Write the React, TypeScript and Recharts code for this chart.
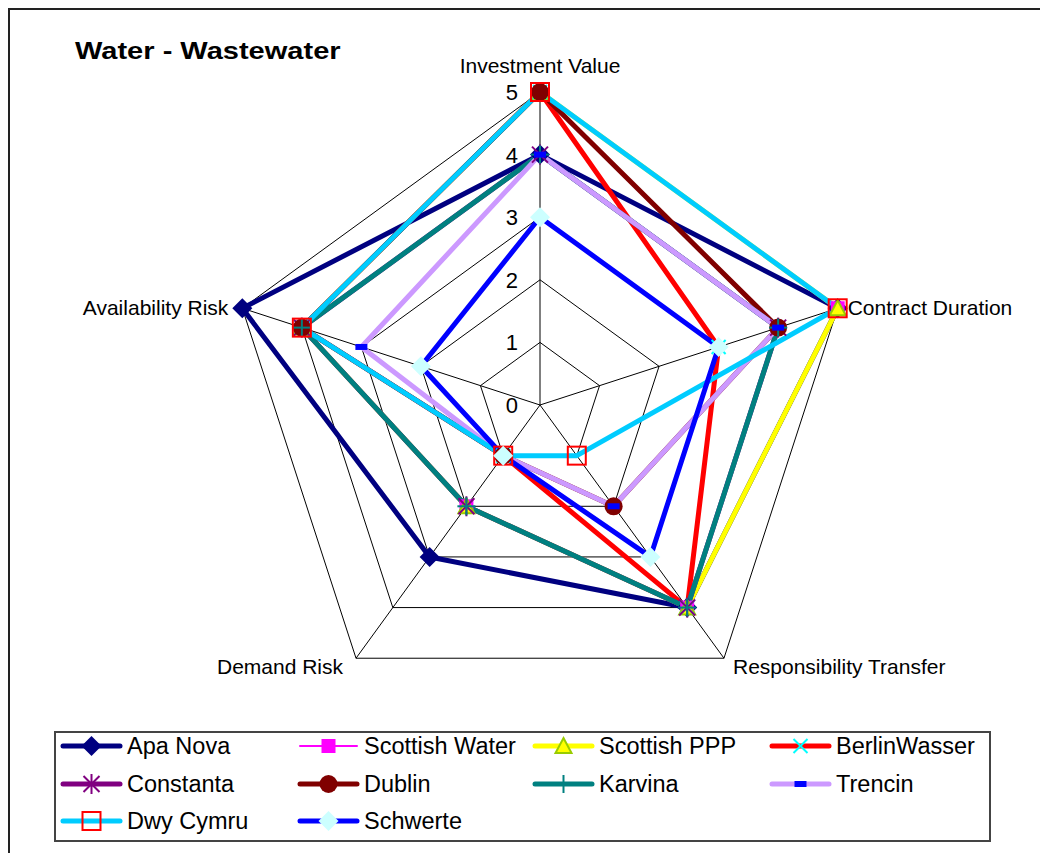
import React from 'react';
import { RadarChart, Radar, PolarGrid, PolarAngleAxis, PolarRadiusAxis } from 'recharts';

// ---- data ----
const categories = ['Investment Value', 'Contract Duration', 'Responsibility Transfer', 'Demand Risk', 'Availability Risk'];
const radiusTicks = [0, 1, 2, 3, 4, 5];
const title = 'Water - Wastewater';

const apaNova = [4, 5, 4, 3, 5];
const scottishWater = [5, 5, 4, 2, 4];
const scottishPPP = [5, 5, 4, 2, 4];
const berlinWasser = [5, 3, 4, 1, 4];
const constanta = [4, 4, 4, 2, 4];
const dublin = [5, 4, 2, 1, 4];
const karvina = [4, 4, 4, 2, 4];
const trencin = [4, 4, 2, 1, 3];
const dwyCymru = [5, 5, 1, 1, 4];
const schwerte = [3, 3, 3, 1, 2];

const seriesNames = ['Apa Nova', 'Scottish Water', 'Scottish PPP', 'BerlinWasser', 'Constanta', 'Dublin', 'Karvina', 'Trencin', 'Dwy Cymru', 'Schwerte'];
const seriesValues = [apaNova, scottishWater, scottishPPP, berlinWasser, constanta, dublin, karvina, trencin, dwyCymru, schwerte];

// ---- styles ----
const seriesStyles = [
  { color: '#000080', width: 5, marker: 'diamond', mFill: '#000080', mStroke: 'none' },
  { color: '#FF00FF', width: 2, marker: 'square', mFill: '#FF00FF', mStroke: 'none' },
  { color: '#FFFF00', width: 5, marker: 'triangle', mFill: '#FFFF00', mStroke: '#99CC00' },
  { color: '#FF0000', width: 5, marker: 'x', mFill: 'none', mStroke: '#00FFFF' },
  { color: '#800080', width: 5, marker: 'asterisk', mFill: 'none', mStroke: '#800080' },
  { color: '#800000', width: 5, marker: 'circle', mFill: '#800000', mStroke: 'none' },
  { color: '#008080', width: 5, marker: 'plus', mFill: 'none', mStroke: '#008080' },
  { color: '#CC99FF', width: 5, marker: 'bar', mFill: '#0000FF', mStroke: 'none' },
  { color: '#00CCFF', width: 5, marker: 'openSquare', mFill: 'none', mStroke: '#FF0000' },
  { color: '#0000FF', width: 5, marker: 'diamond', mFill: '#CCFFFF', mStroke: 'none' },
];

const data = categories.map((c, i) => {
  const row: any = { category: c };
  seriesNames.forEach((n, s) => { row[n] = seriesValues[s][i]; });
  return row;
});

const FONT = '"Liberation Sans", Arial, Helvetica, sans-serif';
const W = 1040;
const H = 845;
const CX = 532;
const CY = 397;
const R = 313;

function Marker({ type, x, y, fill, stroke }: any) {
  switch (type) {
    case 'diamond':
      return <polygon points={`${x},${y - 10} ${x + 10},${y} ${x},${y + 10} ${x - 10},${y}`} fill={fill} />;
    case 'square':
      return <rect x={x - 7} y={y - 7} width={14} height={14} fill={fill} />;
    case 'triangle':
      return <polygon points={`${x},${y - 8} ${x + 8},${y + 7} ${x - 8},${y + 7}`} fill={fill} stroke={stroke} strokeWidth={2} />;
    case 'x':
      return (
        <g stroke={stroke} strokeWidth={2}>
          <line x1={x - 7} y1={y - 7} x2={x + 7} y2={y + 7} />
          <line x1={x - 7} y1={y + 7} x2={x + 7} y2={y - 7} />
        </g>
      );
    case 'asterisk':
      return (
        <g stroke={stroke} strokeWidth={2}>
          <line x1={x - 8} y1={y - 8} x2={x + 8} y2={y + 8} />
          <line x1={x - 8} y1={y + 8} x2={x + 8} y2={y - 8} />
          <line x1={x} y1={y - 10} x2={x} y2={y + 10} />
        </g>
      );
    case 'circle':
      return <circle cx={x} cy={y} r={9} fill={fill} />;
    case 'plus':
      return (
        <g stroke={stroke} strokeWidth={2}>
          <line x1={x - 9} y1={y} x2={x + 9} y2={y} />
          <line x1={x} y1={y - 9} x2={x} y2={y + 9} />
        </g>
      );
    case 'bar':
      return <rect x={x - 6} y={y - 3} width={12} height={6} fill={fill} />;
    case 'openSquare':
      return <rect x={x - 9} y={y - 9} width={18} height={18} fill="none" stroke={stroke} strokeWidth={2} />;
    default:
      return null;
  }
}

const labelPlacement: any[] = [
  { dx: 0, dy: -19, anchor: 'middle' },
  { dx: 10, dy: 7, anchor: 'start' },
  { dx: 9, dy: 16, anchor: 'start' },
  { dx: -13, dy: 16, anchor: 'end' },
  { dx: -14, dy: 7, anchor: 'end' },
];

const AngleTick = (props: any) => {
  const { x, y, payload } = props;
  const idx = categories.indexOf(payload.value);
  const vx = x - CX;
  const vy = y - CY;
  const len = Math.sqrt(vx * vx + vy * vy) || 1;
  const px = CX + (vx / len) * R;
  const py = CY + (vy / len) * R;
  const p = labelPlacement[idx] || labelPlacement[0];
  return (
    <text x={px + p.dx} y={py + p.dy} textAnchor={p.anchor} fontFamily={FONT} fontSize={21} fill="#000">
      {payload.value}
    </text>
  );
};

const RadiusTick = (props: any) => {
  const { y, payload } = props;
  return (
    <text x={CX - 22} y={y + 8} textAnchor="end" fontFamily={FONT} fontSize={22} fill="#000">
      {payload.value}
    </text>
  );
};

const legendCols = [55, 292, 527, 764];
const legendRows = [738, 776, 813];

export default function App() {
  return (
    <div style={{ position: 'relative', width: W, height: H, overflow: 'hidden', background: '#fff' }}>
      <div style={{ position: 'absolute', left: 0, top: 0 }}>
        <RadarChart width={W} height={H} data={data} cx={CX} cy={CY} outerRadius={R} margin={{ top: 0, right: 0, bottom: 0, left: 0 }}>
          <PolarGrid gridType="polygon" stroke="#000" strokeOpacity={1} strokeWidth={1} />
          <PolarAngleAxis dataKey="category" tick={AngleTick} tickLine={false} axisLine={false} />
          <PolarRadiusAxis angle={90} domain={[0, 5]} ticks={radiusTicks as any} tickCount={6} axisLine={false} tick={RadiusTick} tickLine={false} />
          {seriesNames.map((n, s) => (
            <Radar
              key={'line-' + n}
              name={n}
              dataKey={n}
              stroke={seriesStyles[s].color}
              strokeWidth={seriesStyles[s].width}
              strokeLinejoin="round"
              fill="none"
              fillOpacity={0}
              dot={false}
              activeDot={false}
              legendType="none"
              isAnimationActive={false}
            />
          ))}
          {seriesNames.map((n, s) => (
            <Radar
              key={'dot-' + n}
              name={n + ' markers'}
              dataKey={n}
              stroke="none"
              fill="none"
              fillOpacity={0}
              activeDot={false}
              legendType="none"
              isAnimationActive={false}
              dot={(p: any) => (
                <Marker
                  key={'m-' + n + '-' + (p.index ?? p.key)}
                  type={seriesStyles[s].marker}
                  x={p.cx}
                  y={p.cy}
                  fill={seriesStyles[s].mFill}
                  stroke={seriesStyles[s].mStroke}
                />
              )}
            />
          ))}
        </RadarChart>
      </div>
      <svg width={W} height={H} style={{ position: 'absolute', left: 0, top: 0, pointerEvents: 'none' }}>
        <line x1={0} y1={1} x2={W} y2={1} stroke="#222" strokeWidth={2} />
        <line x1={1} y1={0} x2={1} y2={H} stroke="#222" strokeWidth={2} />
        <text transform="translate(67,51) scale(1.21,1)" fontFamily={FONT} fontWeight="bold" fontSize={24} fill="#000">
          {title}
        </text>
        <rect x={47} y={724} width={935} height={109} fill="#fff" stroke="#444" strokeWidth={2} />
        {seriesNames.map((n, s) => {
          const col = legendCols[s % 4];
          const row = legendRows[Math.floor(s / 4)];
          const st = seriesStyles[s];
          return (
            <g key={'lg-' + n}>
              <line x1={col} y1={row} x2={col + 57} y2={row} stroke={st.color} strokeWidth={st.width} strokeLinecap="round" />
              <Marker type={st.marker} x={col + 28.5} y={row} fill={st.mFill} stroke={st.mStroke} />
              <text x={col + 64} y={row + 8} fontFamily={FONT} fontSize={23.5} fill="#000">
                {n}
              </text>
            </g>
          );
        })}
      </svg>
    </div>
  );
}
